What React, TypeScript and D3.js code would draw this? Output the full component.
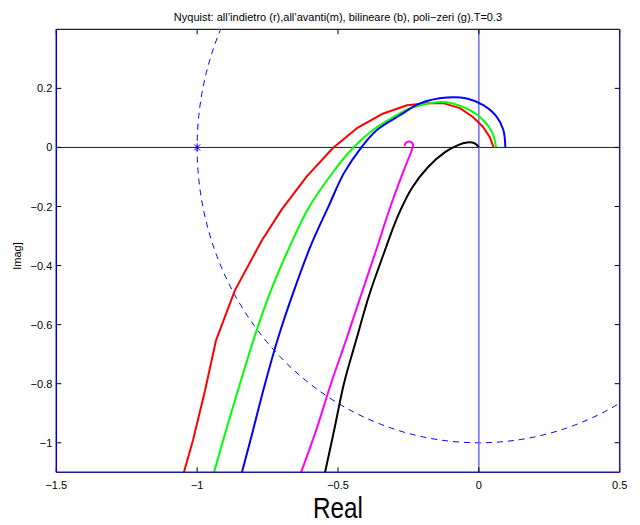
import React from "react";
import * as d3 from "d3";

const title = "Nyquist: all\u2019indietro (r),all\u2019avanti(m), bilineare (b), poli\u2212zeri (g).T=0.3";
const xTicks = [-1.5, -1, -0.5, 0, 0.5];
const yTicks = [0.2, 0, -0.2, -0.4, -0.6, -0.8, -1];

// all'indietro (red)
const redX = [-1.047, -1.015, -0.972, -0.933, -0.866, -0.77, -0.699, -0.61, -0.518, -0.433, -0.344, -0.255, -0.184, -0.127, -0.067, -0.021, 0.015, 0.039, 0.052];
const redY = [-1.1, -0.992, -0.823, -0.653, -0.484, -0.314, -0.209, -0.097, -0.002, 0.065, 0.113, 0.143, 0.15, 0.15, 0.133, 0.103, 0.069, 0.035, 0.001];
// poli-zeri (green)
const greenX = [-0.94, -0.898, -0.848, -0.795, -0.738, -0.674, -0.607, -0.518, -0.447, -0.376, -0.305, -0.234, -0.149, -0.092, -0.032, 0.015, 0.047, 0.061];
const greenY = [-1.1, -0.959, -0.8, -0.637, -0.484, -0.341, -0.209, -0.084, -0.002, 0.059, 0.102, 0.136, 0.153, 0.149, 0.126, 0.093, 0.052, 0.001];
// bilineare (blue)
const blueX = [-0.841, -0.802, -0.759, -0.71, -0.656, -0.596, -0.532, -0.479, -0.419, -0.362, -0.28, -0.209, -0.114, -0.043, 0.016, 0.063, 0.087, 0.094];
const blueY = [-1.1, -0.959, -0.8, -0.637, -0.484, -0.331, -0.196, -0.087, -0.002, 0.059, 0.109, 0.149, 0.169, 0.166, 0.143, 0.104, 0.059, 0.001];
// all'avanti (magenta)
const magX = [-0.631, -0.578, -0.525, -0.472, -0.419, -0.365, -0.316, -0.277, -0.252, -0.238, -0.234, -0.245, -0.259, -0.264];
const magY = [-1.1, -0.959, -0.8, -0.654, -0.502, -0.349, -0.206, -0.104, -0.043, -0.009, 0.011, 0.02, 0.016, 0.004];
// continuous (black)
const blackX = [-0.546, -0.514, -0.479, -0.436, -0.39, -0.34, -0.287, -0.238, -0.181, -0.12, -0.074, -0.042, -0.017, 0.0];
const blackY = [-1.1, -0.959, -0.8, -0.654, -0.502, -0.366, -0.231, -0.138, -0.067, -0.016, 0.008, 0.017, 0.015, 0.001];

const W = 640, H = 525;
const L = 56.3, R = 619.7, T = 29.3, B = 472.3;

const fmt = (v: number) => (v < 0 ? "\u2212" + String(Math.abs(v)) : String(v));

export default function App() {
  const x = d3.scaleLinear().domain([-1.5, 0.5]).range([L, R]);
  const y = d3.scaleLinear().domain([-1.1, 0.4]).range([B, T]);

  const mk = (xs: number[], ys: number[], curve: any) =>
    d3.line<number>().x((_, i) => x(xs[i])).y((_, i) => y(ys[i])).curve(curve)(xs.map((_, i) => i)) || "";

  const series = [
    { xs: redX, ys: redY, color: "#ff0000", curve: d3.curveLinear },
    { xs: greenX, ys: greenY, color: "#00ff00", curve: d3.curveCatmullRom },
    { xs: blueX, ys: blueY, color: "#0000ff", curve: d3.curveCatmullRom },
    { xs: magX, ys: magY, color: "#ff00ff", curve: d3.curveCatmullRom },
    { xs: blackX, ys: blackY, color: "#000000", curve: d3.curveCatmullRom },
  ];

  const font = "'Liberation Sans', Arial, Helvetica, sans-serif";
  const tl = 5;

  return (
    <svg width={W} height={H} style={{ position: "absolute", left: 0, top: 0, background: "#fff" }}>
      <defs>
        <clipPath id="plot">
          <rect x={L} y={T} width={R - L} height={B - T} />
        </clipPath>
      </defs>
      <rect x={0} y={0} width={W} height={H} fill="#fff" />
      <g clipPath="url(#plot)">
        <ellipse cx={x(0)} cy={y(0)} rx={x(1) - x(0)} ry={y(-1) - y(0)} fill="none" stroke="#0000ff" strokeWidth={1} strokeDasharray="6,5" />
        <line x1={L} x2={R} y1={y(0)} y2={y(0)} stroke="#0000ff" strokeWidth={1} />
        <line x1={x(0)} x2={x(0)} y1={T} y2={B} stroke="#6a6aff" strokeWidth={1.5} />
        {series.map((s, i) => (
          <path key={i} d={mk(s.xs, s.ys, s.curve)} fill="none" stroke={s.color} strokeWidth={2} strokeLinejoin="round" />
        ))}
        <g stroke="#0000ff" strokeWidth={1}>
          <line x1={x(-1) - 3} x2={x(-1) + 3} y1={y(0) - 3} y2={y(0) + 3} />
          <line x1={x(-1) - 3} x2={x(-1) + 3} y1={y(0) + 3} y2={y(0) - 3} />
          <line x1={x(-1)} x2={x(-1)} y1={y(0) - 4} y2={y(0) + 4} />
        </g>
      </g>
      {/* ticks */}
      <g stroke="#000" strokeWidth={1}>
        {xTicks.map((t) => (
          <g key={"xt" + t}>
            <line x1={x(t)} x2={x(t)} y1={B} y2={B - tl} />
            <line x1={x(t)} x2={x(t)} y1={T} y2={T + tl} />
          </g>
        ))}
        {yTicks.map((t) => (
          <g key={"yt" + t}>
            <line x1={L} x2={L + tl} y1={y(t)} y2={y(t)} />
            <line x1={R} x2={R - tl} y1={y(t)} y2={y(t)} />
          </g>
        ))}
      </g>
      {/* frame */}
      <line x1={L} x2={R} y1={T} y2={T} stroke="#222" strokeWidth={1.3} />
      <line x1={L} x2={R} y1={B} y2={B} stroke="#1a1a9a" strokeWidth={1.5} />
      <line x1={R} x2={R} y1={T} y2={B} stroke="#1a1a9a" strokeWidth={1.5} />
      <line x1={L} x2={L} y1={T} y2={B} stroke="#0000dd" strokeWidth={1.5} />
      {/* tick labels */}
      <g fontFamily={font} fontSize={11} fill="#000">
        {xTicks.map((t) => (
          <text key={"xl" + t} x={x(t)} y={B + 17} textAnchor="middle">{fmt(t)}</text>
        ))}
        {yTicks.map((t) => (
          <text key={"yl" + t} x={L - 4} y={y(t) + 4} textAnchor="end">{fmt(t)}</text>
        ))}
      </g>
      <text x={(L + R) / 2} y={21} textAnchor="middle" fontFamily={font} fontSize={11} fill="#000">{title}</text>
      <text x={(L + R) / 2} y={518} textAnchor="middle" fontFamily={font} fontSize={29} textLength={50} lengthAdjust="spacingAndGlyphs" fill="#000">Real</text>
      <text transform={`translate(21, 256) rotate(-90)`} textAnchor="middle" fontFamily={font} fontSize={11} fill="#000">Imag]</text>
    </svg>
  );
}
